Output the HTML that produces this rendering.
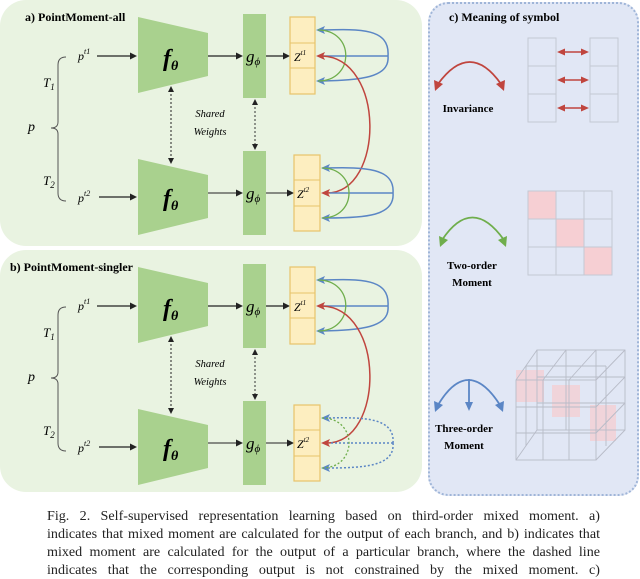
<!DOCTYPE html>
<html><head><meta charset="utf-8"><style>
body{margin:0;background:#fff;width:640px;height:579px;overflow:hidden;position:relative;font-family:"Liberation Serif",serif}
.bg{position:absolute}
.cap{position:absolute;left:47px;top:507px;width:553px;font-size:14.1px;line-height:18px;color:#222}
.cap div{text-align:justify;text-align-last:justify;white-space:nowrap}
</style></head><body>
<div class="bg" style="left:0;top:0;width:422px;height:246px;border-radius:26px;background:#e9f3e1"></div>
<div class="bg" style="left:0;top:250px;width:422px;height:242px;border-radius:26px;background:#e9f3e1"></div>
<div class="bg" style="left:428px;top:2px;width:207px;height:490px;border-radius:20px;background:#e1e7f5;border:2px dotted #9fb5d8"></div>
<svg width="640" height="579" style="position:absolute;left:0;top:0">
<g font-family="Liberation Serif, serif">
<g>
<text x="78" y="60" font-size="12" font-style="italic">p<tspan font-size="8" dy="-6">t1</tspan></text>
<line x1="97" y1="56" x2="132" y2="56" stroke="#222" stroke-width="1.2"/>
<polygon points="130,52.5 137,56 130,59.5" fill="#222"/>
<path d="M138,17 L208,33 L208,76 L138,93z" fill="#a9d18e"/>
<text x="163" y="66" font-size="24" font-style="italic" font-weight="bold">f<tspan font-size="14" dy="4">θ</tspan></text>
<line x1="208" y1="56" x2="238" y2="56" stroke="#222" stroke-width="1.2"/>
<polygon points="236,52.5 243,56 236,59.5" fill="#222"/>
<rect x="243" y="14" width="23" height="84" fill="#a9d18e"/>
<text x="246" y="62" font-size="17" font-style="italic">g<tspan font-size="11" dy="3">ϕ</tspan></text>
<line x1="266" y1="56" x2="285" y2="56" stroke="#222" stroke-width="1.2"/>
<polygon points="283,52.5 290,56 283,59.5" fill="#222"/>
<rect x="290" y="17" width="25" height="77" fill="#fdeec0" stroke="#e8c46a" stroke-width="1.2"/>
<line x1="290" y1="43" x2="315" y2="43" stroke="#e8c46a"/><line x1="290" y1="68" x2="315" y2="68" stroke="#e8c46a"/>
<text x="294" y="61" font-size="12" font-style="italic">Z<tspan font-size="7" dy="-6">t1</tspan></text>
<text x="78" y="202" font-size="12" font-style="italic">p<tspan font-size="8" dy="-6">t2</tspan></text>
<line x1="99" y1="197" x2="132" y2="197" stroke="#222" stroke-width="1.2"/>
<polygon points="130,193.5 137,197 130,200.5" fill="#222"/>
<path d="M138,159 L208,175 L208,218 L138,235z" fill="#a9d18e"/>
<text x="163" y="206" font-size="24" font-style="italic" font-weight="bold">f<tspan font-size="14" dy="4">θ</tspan></text>
<line x1="208" y1="193" x2="238" y2="193" stroke="#222" stroke-width="1"/>
<polygon points="236,189.5 243,193 236,196.5" fill="#222"/>
<rect x="243" y="151" width="23" height="84" fill="#a9d18e"/>
<text x="246" y="199" font-size="17" font-style="italic">g<tspan font-size="11" dy="3">ϕ</tspan></text>
<line x1="266" y1="193" x2="289" y2="193" stroke="#222" stroke-width="1"/>
<polygon points="287,189.5 294,193 287,196.5" fill="#222"/>
<rect x="294" y="155" width="26" height="76" fill="#fdeec0" stroke="#e8c46a" stroke-width="1.2"/>
<line x1="294" y1="180" x2="320" y2="180" stroke="#e8c46a"/><line x1="294" y1="206" x2="320" y2="206" stroke="#e8c46a"/>
<text x="297" y="198" font-size="12" font-style="italic">Z<tspan font-size="7" dy="-6">t2</tspan></text>
<path d="M66,57 Q58,57 58,65 L58,122 Q58,128 51,128 Q58,128 58,134 L58,193 Q58,201 66,201" fill="none" stroke="#555" stroke-width="1"/>
<text x="28" y="131" font-size="14" font-style="italic">p</text>
<text x="43" y="87" font-size="13" font-style="italic">T<tspan font-size="9" dy="3">1</tspan></text>
<text x="43" y="185" font-size="13" font-style="italic">T<tspan font-size="9" dy="3">2</tspan></text>
<text x="210" y="117" font-size="10.5" font-style="italic" text-anchor="middle">Shared</text>
<text x="210" y="135" font-size="10.5" font-style="italic" text-anchor="middle">Weights</text>
<line x1="171" y1="90" x2="171" y2="160" stroke="#222" stroke-width="1" stroke-dasharray="2,2"/>
<polygon points="168,92 171,86 174,92" fill="#222"/><polygon points="168,158 171,164 174,158" fill="#222"/>
<line x1="255" y1="103" x2="255" y2="146" stroke="#333" stroke-width="1" stroke-dasharray="2,2"/>
<polygon points="252,105 255,99 258,105" fill="#222"/><polygon points="252,144 255,150 258,144" fill="#222"/>
<path d="M388,56 C390,28 360,29 322,30" fill="none" stroke="#5b86c5" stroke-width="1.5"/>
<path d="M388,56 C390,78 360,80 322,81" fill="none" stroke="#5b86c5" stroke-width="1.5"/>
<line x1="388" y1="56" x2="322" y2="56" stroke="#5b86c5" stroke-width="1.5"/>
<polygon points="316,30 325,26 323,30 325,34" fill="#5b86c5"/>
<polygon points="316,81 325,77 323,81 325,85" fill="#5b86c5"/>
<path d="M318,30 C355,30 355,81 318,81" fill="none" stroke="#6fae4c" stroke-width="1.3"/>
<path d="M322,56 C385,58 385,192 327,193" fill="none" stroke="#c0453e" stroke-width="1.5"/>
<polygon points="316,56 325,52 323,56 325,60" fill="#c0453e"/>
<polygon points="321,193 330,189 328,193 330,197" fill="#c0453e"/>
<path d="M393,193 C395,168 365,167 327,168" fill="none" stroke="#5b86c5" stroke-width="1.5"/>
<path d="M393,193 C395,216 365,218 327,218" fill="none" stroke="#5b86c5" stroke-width="1.5"/>
<line x1="393" y1="193" x2="330" y2="193" stroke="#5b86c5" stroke-width="1.5"/>
<polygon points="321,168 330,164 328,168 330,172" fill="#5b86c5"/>
<polygon points="321,218 330,214 328,218 330,222" fill="#5b86c5"/>
<path d="M322,168 C358,168 358,218 322,218" fill="none" stroke="#6fae4c" stroke-width="1.3"/>
</g>
<text x="25" y="21" font-size="12" font-weight="bold">a) PointMoment-all</text>

<g transform="translate(0,250)">
<text x="78" y="60" font-size="12" font-style="italic">p<tspan font-size="8" dy="-6">t1</tspan></text>
<line x1="97" y1="56" x2="132" y2="56" stroke="#222" stroke-width="1.2"/>
<polygon points="130,52.5 137,56 130,59.5" fill="#222"/>
<path d="M138,17 L208,33 L208,76 L138,93z" fill="#a9d18e"/>
<text x="163" y="66" font-size="24" font-style="italic" font-weight="bold">f<tspan font-size="14" dy="4">θ</tspan></text>
<line x1="208" y1="56" x2="238" y2="56" stroke="#222" stroke-width="1.2"/>
<polygon points="236,52.5 243,56 236,59.5" fill="#222"/>
<rect x="243" y="14" width="23" height="84" fill="#a9d18e"/>
<text x="246" y="62" font-size="17" font-style="italic">g<tspan font-size="11" dy="3">ϕ</tspan></text>
<line x1="266" y1="56" x2="285" y2="56" stroke="#222" stroke-width="1.2"/>
<polygon points="283,52.5 290,56 283,59.5" fill="#222"/>
<rect x="290" y="17" width="25" height="77" fill="#fdeec0" stroke="#e8c46a" stroke-width="1.2"/>
<line x1="290" y1="43" x2="315" y2="43" stroke="#e8c46a"/><line x1="290" y1="68" x2="315" y2="68" stroke="#e8c46a"/>
<text x="294" y="61" font-size="12" font-style="italic">Z<tspan font-size="7" dy="-6">t1</tspan></text>
<text x="78" y="202" font-size="12" font-style="italic">p<tspan font-size="8" dy="-6">t2</tspan></text>
<line x1="99" y1="197" x2="132" y2="197" stroke="#222" stroke-width="1.2"/>
<polygon points="130,193.5 137,197 130,200.5" fill="#222"/>
<path d="M138,159 L208,175 L208,218 L138,235z" fill="#a9d18e"/>
<text x="163" y="206" font-size="24" font-style="italic" font-weight="bold">f<tspan font-size="14" dy="4">θ</tspan></text>
<line x1="208" y1="193" x2="238" y2="193" stroke="#222" stroke-width="1"/>
<polygon points="236,189.5 243,193 236,196.5" fill="#222"/>
<rect x="243" y="151" width="23" height="84" fill="#a9d18e"/>
<text x="246" y="199" font-size="17" font-style="italic">g<tspan font-size="11" dy="3">ϕ</tspan></text>
<line x1="266" y1="193" x2="289" y2="193" stroke="#222" stroke-width="1"/>
<polygon points="287,189.5 294,193 287,196.5" fill="#222"/>
<rect x="294" y="155" width="26" height="76" fill="#fdeec0" stroke="#e8c46a" stroke-width="1.2"/>
<line x1="294" y1="180" x2="320" y2="180" stroke="#e8c46a"/><line x1="294" y1="206" x2="320" y2="206" stroke="#e8c46a"/>
<text x="297" y="198" font-size="12" font-style="italic">Z<tspan font-size="7" dy="-6">t2</tspan></text>
<path d="M66,57 Q58,57 58,65 L58,122 Q58,128 51,128 Q58,128 58,134 L58,193 Q58,201 66,201" fill="none" stroke="#555" stroke-width="1"/>
<text x="28" y="131" font-size="14" font-style="italic">p</text>
<text x="43" y="87" font-size="13" font-style="italic">T<tspan font-size="9" dy="3">1</tspan></text>
<text x="43" y="185" font-size="13" font-style="italic">T<tspan font-size="9" dy="3">2</tspan></text>
<text x="210" y="117" font-size="10.5" font-style="italic" text-anchor="middle">Shared</text>
<text x="210" y="135" font-size="10.5" font-style="italic" text-anchor="middle">Weights</text>
<line x1="171" y1="90" x2="171" y2="160" stroke="#222" stroke-width="1" stroke-dasharray="2,2"/>
<polygon points="168,92 171,86 174,92" fill="#222"/><polygon points="168,158 171,164 174,158" fill="#222"/>
<line x1="255" y1="103" x2="255" y2="146" stroke="#333" stroke-width="1" stroke-dasharray="2,2"/>
<polygon points="252,105 255,99 258,105" fill="#222"/><polygon points="252,144 255,150 258,144" fill="#222"/>
<path d="M388,56 C390,28 360,29 322,30" fill="none" stroke="#5b86c5" stroke-width="1.5"/>
<path d="M388,56 C390,78 360,80 322,81" fill="none" stroke="#5b86c5" stroke-width="1.5"/>
<line x1="388" y1="56" x2="322" y2="56" stroke="#5b86c5" stroke-width="1.5"/>
<polygon points="316,30 325,26 323,30 325,34" fill="#5b86c5"/>
<polygon points="316,81 325,77 323,81 325,85" fill="#5b86c5"/>
<path d="M318,30 C355,30 355,81 318,81" fill="none" stroke="#6fae4c" stroke-width="1.3"/>
<path d="M322,56 C385,58 385,192 327,193" fill="none" stroke="#c0453e" stroke-width="1.5"/>
<polygon points="316,56 325,52 323,56 325,60" fill="#c0453e"/>
<polygon points="321,193 330,189 328,193 330,197" fill="#c0453e"/>
<path d="M393,193 C395,168 365,167 327,168" fill="none" stroke="#5b86c5" stroke-width="1.5" stroke-dasharray="2,2"/>
<path d="M393,193 C395,216 365,218 327,218" fill="none" stroke="#5b86c5" stroke-width="1.5" stroke-dasharray="2,2"/>
<line x1="393" y1="193" x2="330" y2="193" stroke="#5b86c5" stroke-width="1.5" stroke-dasharray="2,2"/>
<polygon points="321,168 330,164 328,168 330,172" fill="#5b86c5"/>
<polygon points="321,218 330,214 328,218 330,222" fill="#5b86c5"/>
<path d="M322,168 C358,168 358,218 322,218" fill="none" stroke="#6fae4c" stroke-width="1.3" stroke-dasharray="2,2"/>
<text x="10" y="21" font-size="12" font-weight="bold">b) PointMoment-singler</text>
</g>

<text x="449" y="21" font-size="12" font-weight="bold">c) Meaning of symbol</text>
<path d="M438,84 Q470,40 501,84" fill="none" stroke="#c0453e" stroke-width="1.8"/>
<polygon points="435,91 434,80 443,84" fill="#c0453e"/><polygon points="504,91 505,80 496,84" fill="#c0453e"/>
<text x="468" y="112" font-size="11" font-weight="bold" text-anchor="middle">Invariance</text>
<g fill="none" stroke="#c4c8d4">
<rect x="528" y="38" width="28" height="84"/><line x1="528" y1="66" x2="556" y2="66"/><line x1="528" y1="94" x2="556" y2="94"/>
<rect x="590" y="38" width="28" height="84"/><line x1="590" y1="66" x2="618" y2="66"/><line x1="590" y1="94" x2="618" y2="94"/>
</g>
<g stroke="#c0453e" stroke-width="1.5">
<line x1="562" y1="52" x2="584" y2="52"/><line x1="562" y1="80" x2="584" y2="80"/><line x1="562" y1="108" x2="584" y2="108"/>
</g>
<g fill="#c0453e">
<polygon points="557,52 565,48.5 565,55.5"/><polygon points="589,52 581,48.5 581,55.5"/>
<polygon points="557,80 565,76.5 565,83.5"/><polygon points="589,80 581,76.5 581,83.5"/>
<polygon points="557,108 565,104.5 565,111.5"/><polygon points="589,108 581,104.5 581,111.5"/>
</g>
<path d="M442,240 Q472,195 504,240" fill="none" stroke="#6fae4c" stroke-width="1.8"/>
<polygon points="440,247 439,236 448,240" fill="#6fae4c"/><polygon points="506,247 507,236 498,240" fill="#6fae4c"/>
<text x="472" y="269" font-size="11" font-weight="bold" text-anchor="middle">Two-order</text>
<text x="472" y="286" font-size="11" font-weight="bold" text-anchor="middle">Moment</text>
<rect x="528" y="191" width="28" height="28" fill="#f6cfd3"/><rect x="556" y="219" width="28" height="28" fill="#f6cfd3"/><rect x="584" y="247" width="28" height="28" fill="#f6cfd3"/>
<g fill="none" stroke="#c4c8d4"><rect x="528" y="191" width="84" height="84"/><line x1="556" y1="191" x2="556" y2="275"/><line x1="584" y1="191" x2="584" y2="275"/><line x1="528" y1="219" x2="612" y2="219"/><line x1="528" y1="247" x2="612" y2="247"/></g>
<path d="M438,405 Q468,355 500,405" fill="none" stroke="#5b86c5" stroke-width="1.8"/>
<polygon points="435,412 434,401 443,405" fill="#5b86c5"/><polygon points="503,412 504,401 495,405" fill="#5b86c5"/>
<line x1="469" y1="379" x2="469" y2="404" stroke="#5b86c5" stroke-width="1.8"/>
<polygon points="465,402 469,411 473,402" fill="#5b86c5"/>
<text x="464" y="432" font-size="11" font-weight="bold" text-anchor="middle">Three-order</text>
<text x="464" y="449" font-size="11" font-weight="bold" text-anchor="middle">Moment</text>
<g fill="#f4d0d4" opacity="0.8"><rect x="516" y="370" width="28" height="32"/><rect x="552" y="385" width="28" height="32"/><rect x="590" y="405" width="26" height="36"/></g>
<g fill="none" stroke="#b8bcc8" stroke-width="0.9">
<rect x="516" y="380" width="80" height="80"/><rect x="537" y="350" width="88" height="80"/>
<line x1="516" y1="380" x2="537" y2="350"/><line x1="596" y1="380" x2="625" y2="350"/><line x1="596" y1="460" x2="625" y2="430"/><line x1="516" y1="460" x2="537" y2="430"/>
<line x1="543" y1="380" x2="543" y2="460"/><line x1="569" y1="380" x2="569" y2="460"/><line x1="516" y1="407" x2="596" y2="407"/><line x1="516" y1="433" x2="596" y2="433"/>
<line x1="566" y1="350" x2="566" y2="430"/><line x1="596" y1="350" x2="596" y2="430"/><line x1="537" y1="377" x2="625" y2="377"/><line x1="537" y1="403" x2="625" y2="403"/>
<line x1="543" y1="380" x2="566" y2="350"/><line x1="569" y1="380" x2="596" y2="350"/><line x1="596" y1="407" x2="625" y2="377"/><line x1="596" y1="433" x2="625" y2="403"/>
<line x1="526" y1="366" x2="606" y2="366"/><line x1="526" y1="366" x2="526" y2="446"/><line x1="606" y1="366" x2="606" y2="446"/>
</g>
</g>
</svg>
<div class="cap">
<div>Fig. 2. Self-supervised representation learning based on third-order mixed moment. a)</div>
<div>indicates that mixed moment are calculated for the output of each branch, and b) indicates that</div>
<div>mixed moment are calculated for the output of a particular branch, where the dashed line</div>
<div>indicates that the corresponding output is not constrained by the mixed moment. c)</div>
</div>
</body></html>
